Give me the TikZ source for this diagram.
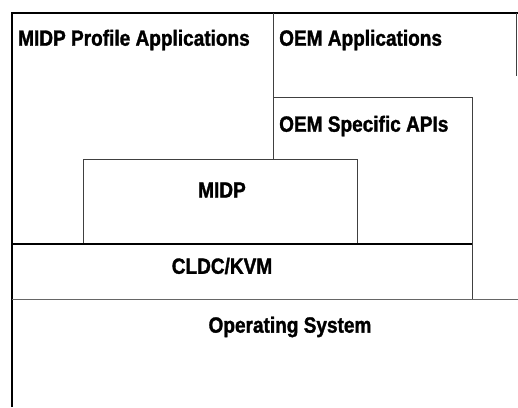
\documentclass[tikz,border=0pt]{standalone}
\usepackage{fontspec}
\setmainfont{Liberation Sans}[FakeStretch=0.865,BoldFeatures={FakeBold=1.4}]
\begin{document}
\begin{tikzpicture}[x=1pt,y=-1pt,
  outer/.style={line width=1.6pt,black},
  inner/.style={line width=0.7pt,black!75},
  lbl/.style={font=\bfseries\fontsize{22}{26}\selectfont,inner sep=0pt}]
\useasboundingbox (0,0) rectangle (518,407);
% coordinates
\coordinate (tl) at (12,13);
\coordinate (tr) at (518,13);
\coordinate (bl) at (12,407);
\coordinate (trt) at (516,13);
\coordinate (trd) at (516,76);
\coordinate (dtop) at (273,13);
\coordinate (dbot) at (273,159);
\coordinate (oemL) at (273,97);
\coordinate (oemR) at (472,97);
\coordinate (oemB) at (472,300);
\coordinate (mBL) at (83,244);
\coordinate (mTL) at (83,159);
\coordinate (mTR) at (357,159);
\coordinate (mBR) at (357,244);
\coordinate (cL) at (12,244);
\coordinate (cR) at (472,244);
\coordinate (osL) at (12,299);
\coordinate (osR) at (518,299);
% lines
\draw[outer] (bl) -- (tl) -- (tr);
\draw[inner] (trt) -- (trd);
\draw[inner] (dtop) -- (dbot);
\draw[inner] (oemL) -- (oemR) -- (oemB);
\draw[inner] (mBL) -- (mTL) -- (mTR) -- (mBR);
\draw[line width=1.1pt] (cL) -- (cR);
\draw[inner,black!60] (osL) -- (osR);
% labels
\node[lbl,anchor=west] (midpapps) at (18,40) {MIDP Profile Applications};
\node[lbl,anchor=west] (oemapps) at (279,40) {OEM Applications};
\node[lbl,anchor=west] (oemapis) at (279,126) {OEM Specific APIs};
\node[lbl] (midp) at (222,190) {MIDP};
\node[lbl] (cldc) at (222,266) {CLDC/KVM};
\node[lbl] (os) at (290,327) {Operating System};
\end{tikzpicture}
\end{document}
